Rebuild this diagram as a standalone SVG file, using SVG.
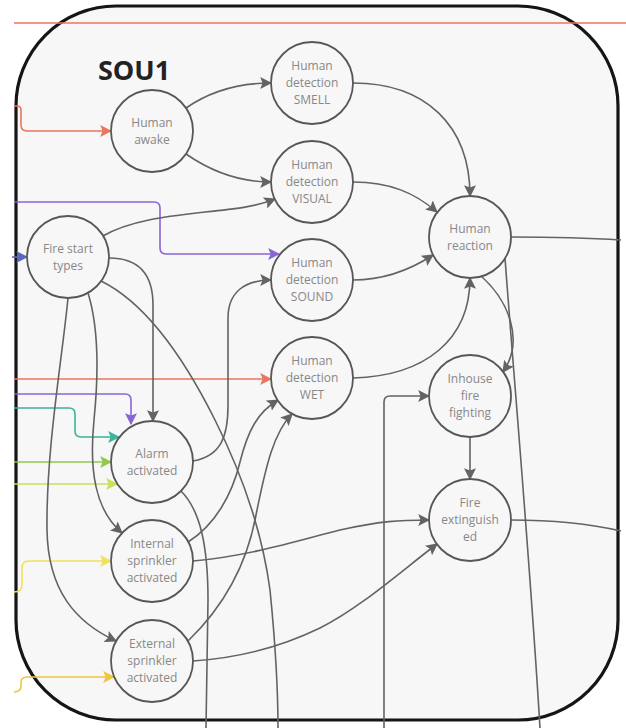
<svg xmlns="http://www.w3.org/2000/svg" width="626" height="728" viewBox="0 0 626 728">
  <style>
    .frame { fill: #f7f7f7; stroke: #151515; stroke-width: 3.2; }
    .title { font-family: "Open Sans", "Liberation Sans", sans-serif; font-weight: bold; font-size: 27px; fill: #222; }
    .node circle { fill: #f7f7f7; stroke: #575757; stroke-width: 1.8; }
    .node text { font-family: "Open Sans", "Liberation Sans", sans-serif; font-size: 12px; fill: #888888; text-anchor: middle; }
    .edge { fill: none; stroke: #636363; stroke-width: 1.6; }
    .edge.arrow { marker-end: url(#ah-grey); }
    .salmon { fill: none; stroke: #e9765d; stroke-width: 1.6; }
    .purple { fill: none; stroke: #8b65d3; stroke-width: 1.6; }
    .blue { fill: none; stroke: #5866c0; stroke-width: 1.6; }
    .teal { fill: none; stroke: #3db39b; stroke-width: 1.6; }
    .green { fill: none; stroke: #91c94c; stroke-width: 1.6; }
    .lime { fill: none; stroke: #c9e05a; stroke-width: 1.6; }
    .yellow { fill: none; stroke: #f1e25b; stroke-width: 1.6; }
    .gold { fill: none; stroke: #f0c63c; stroke-width: 1.6; }
  </style>
  <defs>
    <marker id="ah-grey" viewBox="0 0 10 10" refX="9" refY="5" markerWidth="12" markerHeight="12" markerUnits="userSpaceOnUse" orient="auto">
      <path d="M0,0 L10,5 L0,10 L2,5 z" fill="#636363"/>
    </marker>
    <marker id="ah-salmon" viewBox="0 0 10 10" refX="9" refY="5" markerWidth="12" markerHeight="12" markerUnits="userSpaceOnUse" orient="auto">
      <path d="M0,0 L10,5 L0,10 L2,5 z" fill="#e9765d"/>
    </marker>
    <marker id="ah-purple" viewBox="0 0 10 10" refX="9" refY="5" markerWidth="12" markerHeight="12" markerUnits="userSpaceOnUse" orient="auto">
      <path d="M0,0 L10,5 L0,10 L2,5 z" fill="#8b65d3"/>
    </marker>
    <marker id="ah-blue" viewBox="0 0 10 10" refX="9" refY="5" markerWidth="12" markerHeight="12" markerUnits="userSpaceOnUse" orient="auto">
      <path d="M0,0 L10,5 L0,10 L2,5 z" fill="#5866c0"/>
    </marker>
    <marker id="ah-teal" viewBox="0 0 10 10" refX="9" refY="5" markerWidth="12" markerHeight="12" markerUnits="userSpaceOnUse" orient="auto">
      <path d="M0,0 L10,5 L0,10 L2,5 z" fill="#3db39b"/>
    </marker>
    <marker id="ah-green" viewBox="0 0 10 10" refX="9" refY="5" markerWidth="12" markerHeight="12" markerUnits="userSpaceOnUse" orient="auto">
      <path d="M0,0 L10,5 L0,10 L2,5 z" fill="#91c94c"/>
    </marker>
    <marker id="ah-lime" viewBox="0 0 10 10" refX="9" refY="5" markerWidth="12" markerHeight="12" markerUnits="userSpaceOnUse" orient="auto">
      <path d="M0,0 L10,5 L0,10 L2,5 z" fill="#c9e05a"/>
    </marker>
    <marker id="ah-yellow" viewBox="0 0 10 10" refX="9" refY="5" markerWidth="12" markerHeight="12" markerUnits="userSpaceOnUse" orient="auto">
      <path d="M0,0 L10,5 L0,10 L2,5 z" fill="#f1e25b"/>
    </marker>
    <marker id="ah-gold" viewBox="0 0 10 10" refX="9" refY="5" markerWidth="12" markerHeight="12" markerUnits="userSpaceOnUse" orient="auto">
      <path d="M0,0 L10,5 L0,10 L2,5 z" fill="#f0c63c"/>
    </marker>
  </defs>

  <rect width="626" height="728" fill="#ffffff"/>

  <!-- subsystem frame -->
  <g id="sou1">
    <rect class="frame" x="16" y="6" width="602" height="714" rx="100" ry="100"/>
    <text class="title" x="98" y="80">SOU1</text>
  </g>

  <g id="connectors">
    <!-- incoming coloured links from the left -->
    <path class="salmon" d="M14,23 L626,23"/>
    <path class="salmon" d="M14,106 L17,106 Q21,106 21,110 L21,125 Q21,131 27,131 L111,131" marker-end="url(#ah-salmon)"/>
    <path class="purple" d="M14,202 L154,202 Q160,202 160,208 L160,248 Q160,254 166,254 L279,254" marker-end="url(#ah-purple)"/>
    <path class="blue" d="M12,257 L27,257" marker-end="url(#ah-blue)"/>
    <path class="salmon" d="M14,379 L271,379" marker-end="url(#ah-salmon)"/>
    <path class="purple" d="M14,394 L125,394 Q131,394 131,400 L131,424" marker-end="url(#ah-purple)"/>
    <path class="teal" d="M14,408 L69,408 Q75,408 75,414 L75,431 Q75,437 81,437 L119,437" marker-end="url(#ah-teal)"/>
    <path class="green" d="M14,462 L111,462" marker-end="url(#ah-green)"/>
    <path class="lime" d="M14,484 L117,484" marker-end="url(#ah-lime)"/>
    <path class="yellow" d="M14,592 Q22,592 22,585 L22,568 Q22,561 29,561 L111,561" marker-end="url(#ah-yellow)"/>
    <path class="gold" d="M14,692 Q21,692 21,686 L21,683 Q21,677 27,677 L114,677" marker-end="url(#ah-gold)"/>

    <!-- internal links -->
    <path class="edge arrow" d="M186,108 C212,90 240,83 271,83"/>
    <path class="edge arrow" d="M186,154 C212,172 240,182 271,182"/>
    <path class="edge arrow" d="M103,236 C130,220 170,216 205,212 C235,209 255,207 275,199"/>
    <path class="edge arrow" d="M353,83 C425,83 470,125 470,196"/>
    <path class="edge arrow" d="M353,182 C390,182 415,193 437,212"/>
    <path class="edge arrow" d="M353,280 C385,280 410,270 433,255"/>
    <path class="edge arrow" d="M353,378 C425,376 470,340 470,278"/>
    <path class="edge arrow" d="M481,276 C508,300 525,340 503,372"/>
    <path class="edge" d="M511,237 C560,237 590,238 621,240"/>
    <path class="edge" d="M505,258 C514,380 530,560 540,728"/>
    <path class="edge arrow" d="M470,437 L470,479"/>
    <path class="edge arrow" d="M384,728 L384,402 Q384,396 390,396 L429,396"/>
    <path class="edge" d="M511,520 C560,520 595,525 621,531"/>
    <path class="edge arrow" d="M193,561 C250,556 300,540 340,530 C380,521 400,520 429,520"/>
    <path class="edge arrow" d="M193,661 C240,658 285,645 320,628 C360,608 400,572 437,544"/>
    <path class="edge arrow" d="M193,461 C222,456 228,435 228,405 L228,318 C228,292 245,280 271,280"/>
    <path class="edge arrow" d="M188,542 C215,525 232,495 240,462 C248,430 258,412 278,400"/>
    <path class="edge arrow" d="M188,641 C215,615 245,575 256,515 C266,465 274,432 292,414"/>
    <path class="edge" d="M101,281 C150,305 190,370 215,420 C240,470 262,530 270,590 C275,640 278,690 278,728"/>
    <path class="edge" d="M181,491 C200,510 208,545 208,600 L206,728"/>
    <path class="edge arrow" d="M109,258 C140,258 153,275 153,305 L153,421"/>
    <path class="edge arrow" d="M88,293 C98,325 99,370 94,420 C89,470 95,510 122,533"/>
    <path class="edge arrow" d="M68,298 C62,360 46,450 47,530 C48,590 75,622 116,641"/>
  </g>

  <g id="human-awake" class="node">
    <circle cx="152" cy="131" r="41"/>
    <text x="152" y="127">Human</text>
    <text x="152" y="144">awake</text>
  </g>
  <g id="human-detection-smell" class="node">
    <circle cx="312" cy="83" r="41"/>
    <text x="312" y="70">Human</text>
    <text x="312" y="87">detection</text>
    <text x="312" y="104">SMELL</text>
  </g>
  <g id="human-detection-visual" class="node">
    <circle cx="312" cy="182" r="41"/>
    <text x="312" y="169">Human</text>
    <text x="312" y="186">detection</text>
    <text x="312" y="203">VISUAL</text>
  </g>
  <g id="human-detection-sound" class="node">
    <circle cx="312" cy="280" r="41"/>
    <text x="312" y="267">Human</text>
    <text x="312" y="284">detection</text>
    <text x="312" y="301">SOUND</text>
  </g>
  <g id="human-detection-wet" class="node">
    <circle cx="312" cy="378" r="41"/>
    <text x="312" y="365">Human</text>
    <text x="312" y="382">detection</text>
    <text x="312" y="399">WET</text>
  </g>
  <g id="human-reaction" class="node">
    <circle cx="470" cy="237" r="41"/>
    <text x="470" y="233">Human</text>
    <text x="470" y="250">reaction</text>
  </g>
  <g id="inhouse-fire-fighting" class="node">
    <circle cx="470" cy="396" r="41"/>
    <text x="470" y="383">Inhouse</text>
    <text x="470" y="400">fire</text>
    <text x="470" y="417">fighting</text>
  </g>
  <g id="fire-extinguished" class="node">
    <circle cx="470" cy="520" r="41"/>
    <text x="470" y="507">Fire</text>
    <text x="470" y="524">extinguish</text>
    <text x="470" y="541">ed</text>
  </g>
  <g id="fire-start-types" class="node">
    <circle cx="68" cy="257" r="41"/>
    <text x="68" y="253">Fire start</text>
    <text x="68" y="270">types</text>
  </g>
  <g id="alarm-activated" class="node">
    <circle cx="152" cy="462" r="41"/>
    <text x="152" y="458">Alarm</text>
    <text x="152" y="475">activated</text>
  </g>
  <g id="internal-sprinkler-activated" class="node">
    <circle cx="152" cy="561" r="41"/>
    <text x="152" y="548">Internal</text>
    <text x="152" y="565">sprinkler</text>
    <text x="152" y="582">activated</text>
  </g>
  <g id="external-sprinkler-activated" class="node">
    <circle cx="152" cy="661" r="41"/>
    <text x="152" y="648">External</text>
    <text x="152" y="665">sprinkler</text>
    <text x="152" y="682">activated</text>
  </g>
</svg>
